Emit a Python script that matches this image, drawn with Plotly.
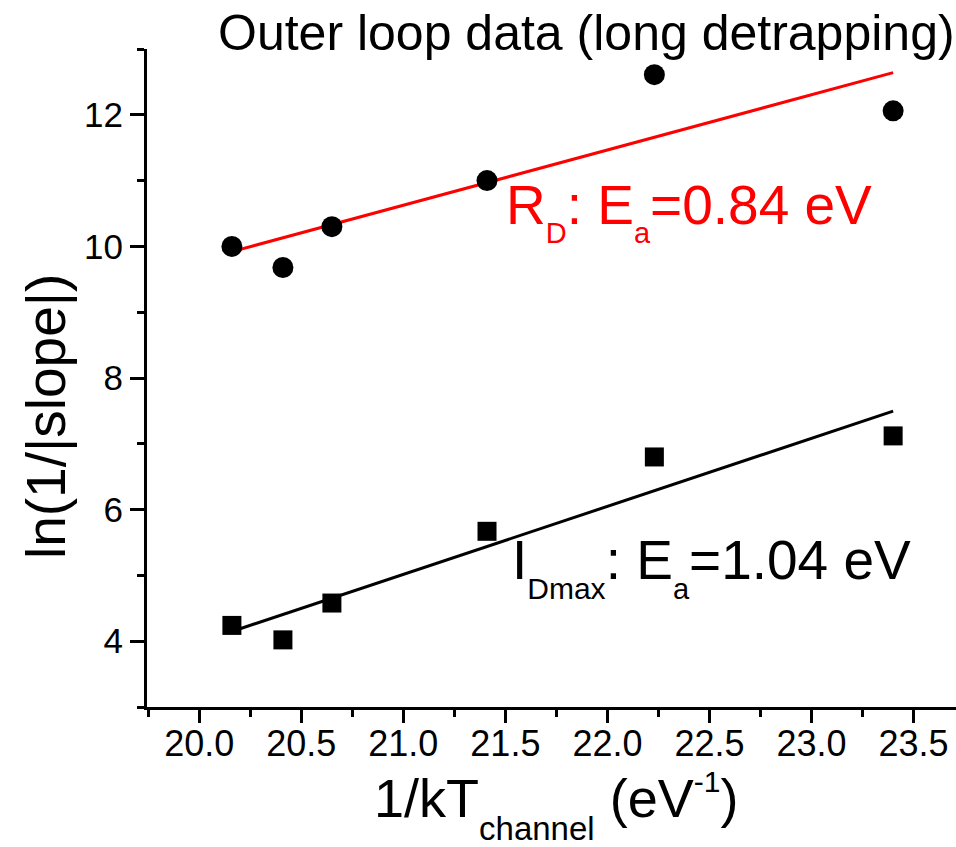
import numpy as np
import plotly.graph_objects as go

# Data
x_inv_kT = [20.16, 20.41, 20.65, 21.41, 22.23, 23.40]
rd_vals = [10.00, 9.68, 10.30, 11.00, 12.61, 12.06]
idmax_vals = [4.24, 4.02, 4.58, 5.67, 6.80, 7.12]

x_tickvals = [20.0, 20.5, 21.0, 21.5, 22.0, 22.5, 23.0, 23.5]
x_ticktext = ["20.0", "20.5", "21.0", "21.5", "22.0", "22.5", "23.0", "23.5"]
y_tickvals = [4, 6, 8, 10, 12]

FONT = "Liberation Sans, Arial, sans-serif"

xa = np.array(x_inv_kT)
fit_x = np.array([xa.min(), xa.max()])
p_rd = np.polyfit(xa, rd_vals, 1)
p_id = np.polyfit(xa, idmax_vals, 1)


def sub(t, size=30, shift=19):
    return f"<span style='font-size:{size}px;baseline-shift:-{shift}px'>{t}</span>"


def sup(t, size=30, shift=22):
    return f"<span style='font-size:{size}px;baseline-shift:{shift}px'>{t}</span>"


fig = go.Figure()
fig.add_trace(go.Scatter(x=fit_x, y=np.polyval(p_rd, fit_x), mode="lines",
                         line=dict(color="#ff0000", width=3), showlegend=False))
fig.add_trace(go.Scatter(x=fit_x, y=np.polyval(p_id, fit_x), mode="lines",
                         line=dict(color="black", width=3), showlegend=False))
fig.add_trace(go.Scatter(x=x_inv_kT, y=rd_vals, mode="markers",
                         marker=dict(symbol="circle", size=21, color="black"), showlegend=False))
fig.add_trace(go.Scatter(x=x_inv_kT, y=idmax_vals, mode="markers",
                         marker=dict(symbol="square", size=19, color="black"), showlegend=False))

fig.update_layout(
    width=956, height=847,
    margin=dict(l=147, r=0, t=49, b=140),
    paper_bgcolor="white", plot_bgcolor="white",
    font=dict(family=FONT, color="black"),
    xaxis=dict(range=[19.744, 23.708], showgrid=False, zeroline=False, automargin=False,
               showline=True, linecolor="black", linewidth=3,
               ticks="outside", ticklen=13, tickwidth=2.5, tickcolor="black",
               tickvals=x_tickvals, ticktext=x_ticktext,
               tickfont=dict(size=36, family=FONT), ticklabelstandoff=-10,
               minor=dict(dtick=0.25, ticks="outside", ticklen=7, tickwidth=2.5, tickcolor="black", showgrid=False)),
    yaxis=dict(range=[3, 13], showgrid=False, zeroline=False, automargin=False,
               showline=True, linecolor="black", linewidth=3,
               ticks="outside", ticklen=14, tickwidth=2.5, tickcolor="black",
               tickvals=y_tickvals, tickfont=dict(size=35, family=FONT),
               minor=dict(dtick=1, ticks="outside", ticklen=7, tickwidth=2.5, tickcolor="black", showgrid=False)),
    annotations=[
        dict(text="Outer loop data (long detrapping)", xref="paper", yref="paper",
             x=(948 - 147) / 809, y=1.0, xanchor="right", yanchor="bottom", yshift=-14, xshift=9,
             showarrow=False, font=dict(size=50, family=FONT, color="black")),
        dict(text="ln(1/|slope|)", xref="paper", yref="paper", textangle=-90,
             x=(46 - 147) / 809, y=(707 - 417) / 658, xanchor="center", yanchor="middle",
             showarrow=False, font=dict(size=55, family=FONT, color="black")),
        dict(text="1/kT" + sub("channel", 33, 23) + " (eV" + sup("-1", 30, 25) + ")",
             xref="paper", yref="paper", x=(556 - 147) / 809, y=(707 - 847) / 658,
             xanchor="center", yanchor="bottom", yshift=-2,
             showarrow=False, font=dict(size=54, family=FONT, color="black")),
        dict(text="R" + sub("D", 29, 19) + ": E" + sub("a", 29, 19) + "=0.84 eV",
             xref="x", yref="y", x=21.494, y=10.27, xanchor="left", yanchor="bottom", yshift=-22,
             showarrow=False, font=dict(size=55, family=FONT, color="#ff0000")),
        dict(text="I" + sub("Dmax", 30, 20) + ": E" + sub("a", 29, 20) + "=1.04 eV",
             xref="x", yref="y", x=21.523, y=4.88, xanchor="left", yanchor="bottom", yshift=-24,
             showarrow=False, font=dict(size=55, family=FONT, color="black")),
    ],
)

fig.write_html("out.html", config={"displayModeBar": False},
               post_script="document.body.style.margin='0';document.body.style.overflow='hidden';")
